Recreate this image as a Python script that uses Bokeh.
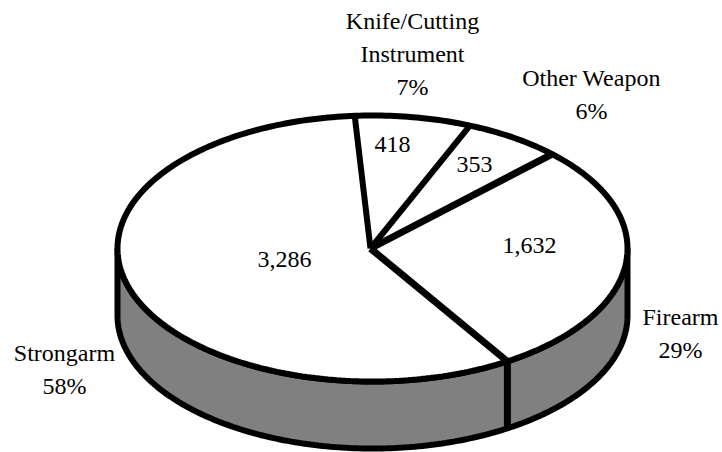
import numpy as np
from bokeh.plotting import figure
from bokeh.embed import file_html
from bokeh.resources import INLINE
from bokeh.models import Range1d
from bokeh.core.properties import value

categories = ["Knife/Cutting", "Instrument", "Other Weapon", "Firearm", "Strongarm"]
counts = [418, 353, 1632, 3286]
count_labels = ["418", "353", "1,632", "3,286"]
percent_labels = ["7%", "6%", "29%", "58%"]

W, H = 722, 452
CX, CY, RX, RY, DEPTH = 372, 248, 255, 133, 67
START = -4.0

p = figure(width=W, height=H, x_range=Range1d(0, W), y_range=Range1d(H, 0),
           output_backend="svg", toolbar_location=None, min_border=0)
p.axis.visible = False
p.grid.visible = False
p.outline_line_color = None

def pt(t, dy=0):
    r = np.radians(t)
    return CX + RX * np.sin(r), CY - RY * np.cos(r) + dy

angles = [START]
total = sum(counts)
for c in counts:
    angles.append(angles[-1] + 360 * c / total)

# side wall
ts = np.linspace(90, 270, 200)
xt, yt = pt(ts)
xb, yb = pt(ts[::-1], DEPTH)
p.patch(np.r_[xt, xb], np.r_[yt, yb], fill_color="#808080", line_color="black", line_width=6)

# top
ts = np.linspace(0, 360, 361)
x, y = pt(ts)
p.patch(x, y, fill_color="white", line_color="black", line_width=6)

# slice borders
widths = [6, 6, 7, 7]
for a, w in zip(angles[:-1], widths):
    x, y = pt(a)
    p.line([CX - 2, x], [CY, y], line_color="black", line_width=w)

# side divider at the Firearm / Strongarm boundary
x, y = pt(angles[3])
p.line([x, x], [y, y + DEPTH], line_color="black", line_width=7)

font = value("Liberation Serif")
def labels(xs, ys, texts):
    p.text(xs, ys, text=texts, text_font=font, text_font_size="24px",
           text_align="center", text_baseline="middle", text_color="black")

labels([392, 474, 529, 284], [144, 164, 245, 259], count_labels)
labels([412, 412, 591, 680, 64], [20, 53, 77, 316, 352], categories)
labels([412, 591, 680, 64], [86, 110, 349, 385], percent_labels)

open("out.html", "w").write(file_html(p, INLINE))
